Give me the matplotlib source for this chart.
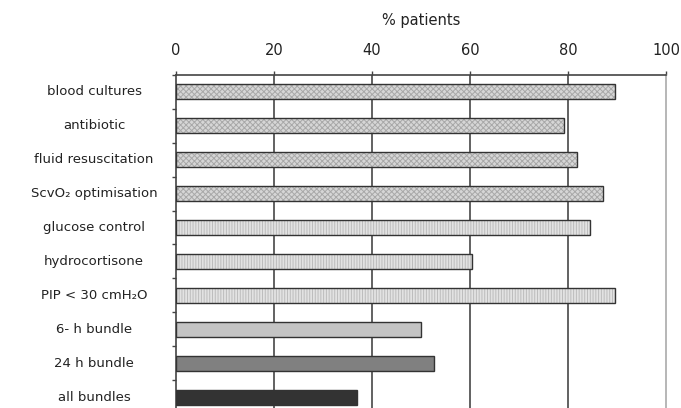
import matplotlib
matplotlib.use("Agg")
import matplotlib.pyplot as plt
from matplotlib.transforms import blended_transform_factory

categories = ["blood cultures", "antibiotic", "fluid resuscitation", "ScvO\u2082 optimisation",
              "glucose control", "hydrocortisone", "PIP < 30 cmH\u2082O", "6- h bundle",
              "24 h bundle", "all bundles"]
values = [89.6, 79.2, 81.8, 87.1, 84.4, 60.5, 89.6, 50.0, 52.7, 36.9]
xticks = [0, 20, 40, 60, 80, 100]

styles = (
    [dict(fc="#d6d6d6", hatch="xxxxxx", hc="#a8a8a8")] * 4
    + [dict(fc="#e2e2e2", hatch="||||||", hc="#bcbcbc")] * 3
    + [dict(fc="#c4c4c4", hatch=None, hc=None),
       dict(fc="#808080", hatch=None, hc=None),
       dict(fc="#333333", hatch=None, hc=None)]
)

plt.rcParams["font.family"] = ["DejaVu Sans"]
plt.rcParams["hatch.linewidth"] = 0.7

fig = plt.figure(figsize=(6.81, 4.08), dpi=100)
W, H = 681, 408
left, right, top = 176, 666, 75
bottom = top + 10 * 33.9
ax = fig.add_axes([left / W, 1 - bottom / H, (right - left) / W, (bottom - top) / H])

ypos = list(range(len(categories)))
for y, v, st in zip(ypos, values, styles):
    if st["hatch"]:
        plt.rcParams["hatch.color"] = st["hc"]
        ax.barh(y, v, height=0.44, color=st["fc"], edgecolor=st["hc"], hatch=st["hatch"],
                linewidth=0, zorder=3)
    else:
        ax.barh(y, v, height=0.44, color=st["fc"], linewidth=0, zorder=3)
    ax.barh(y, v, height=0.44, facecolor="none", edgecolor="#333333", linewidth=1.0, zorder=4)

ax.set_xlim(0, 100)
ax.set_ylim(len(categories) - 0.5, -0.5)
ax.xaxis.set_ticks_position("top")
ax.xaxis.set_label_position("top")
ax.set_xticks(xticks)
ax.set_xticklabels([str(t) for t in xticks], fontsize=10.5, color="#222222")
ax.tick_params(axis="x", length=3, width=1, color="#444444", pad=9)
ax.set_xlabel("% patients", fontsize=10.5, color="#222222", labelpad=13)

ax.set_yticks([i - 0.5 for i in range(len(categories) + 1)])
ax.set_yticklabels([])
ax.tick_params(axis="y", length=3, width=1, color="#444444")

tr = blended_transform_factory(ax.transAxes, ax.transData)
for y, c in zip(ypos, categories):
    ax.text(-0.167, y, c, ha="center", va="center", fontsize=9.5, color="#222222", transform=tr)

for g in [20, 40, 60, 80]:
    ax.axvline(g, color="#555555", linewidth=1.3, zorder=1)

for s in ["left", "top"]:
    ax.spines[s].set_color("#444444")
    ax.spines[s].set_linewidth(1.2)
ax.spines["right"].set_color("#aaaaaa")
ax.spines["right"].set_linewidth(1.2)
ax.spines["bottom"].set_visible(False)

fig.savefig("out.png", dpi=100)
